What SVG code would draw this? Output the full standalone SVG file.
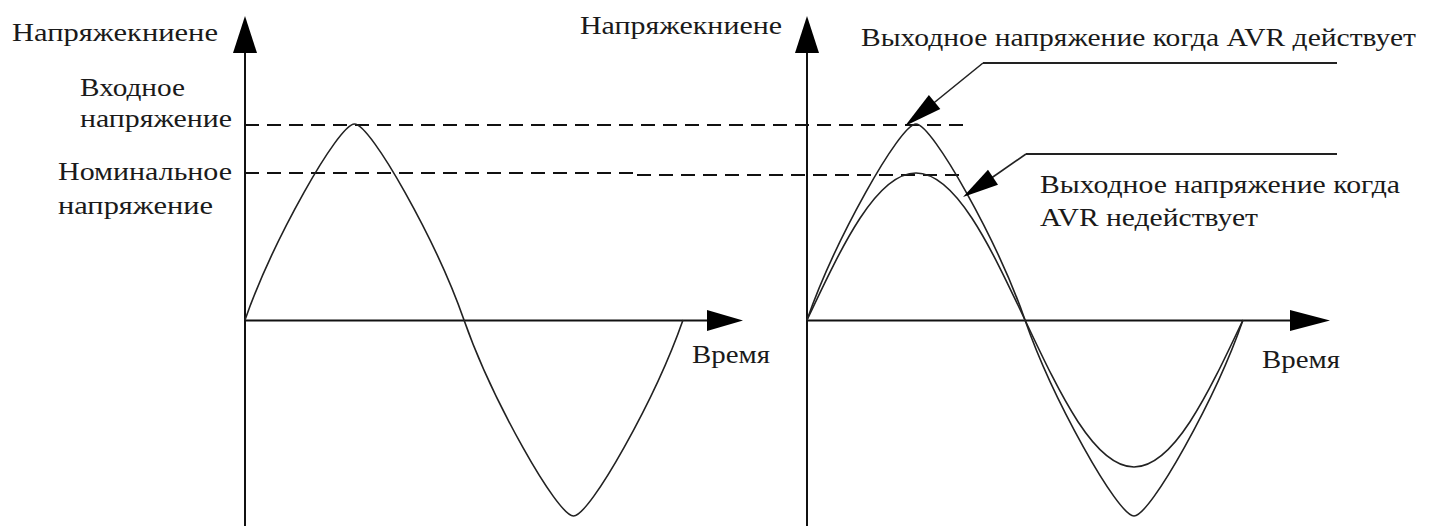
<svg xmlns="http://www.w3.org/2000/svg" width="1436" height="526" viewBox="0 0 1436 526">
<style>
.t{font-family:"Liberation Serif","DejaVu Serif",serif;font-size:25px;fill:#1a1a1a}
.ax{stroke:#111;stroke-width:2;fill:none}
.cv{stroke:#222;stroke-width:1.6;fill:none}
.ds{stroke:#111;stroke-width:2;fill:none;stroke-dasharray:14 8}
.ld{stroke:#222;stroke-width:1.6;fill:none}
.hl{stroke:#222;stroke-width:2.2;fill:none}
.ah{fill:#000;stroke:none}
</style>
<rect width="1436" height="526" fill="#fff"/>
<g id="left-chart">
  <line class="ax" x1="245" y1="50" x2="245" y2="526"/>
  <polygon class="ah" points="245,16 257,53 233,53"/>
  <line class="ax" x1="245" y1="320.5" x2="710" y2="320.5"/>
  <polygon class="ah" points="743,320.5 707,310 707,331"/>
  <line class="ds" x1="245" y1="125" x2="965" y2="125"/>
  <line class="ds" x1="245" y1="173" x2="637" y2="173"/>
  <line class="ds" x1="637" y1="175" x2="960" y2="175"/>
  <path class="cv" d="M245,320 C272.4,241.6 338.1,124 354.5,124 S436.6,241.6 464,320 S557.1,516 573.5,516 S655.6,398.4 683,320"/>
  <text class="t" x="12" y="41" textLength="206" lengthAdjust="spacingAndGlyphs">Напряжекниене</text>
  <text class="t" x="80" y="96" textLength="105" lengthAdjust="spacingAndGlyphs">Входное</text>
  <text class="t" x="80" y="127" textLength="152" lengthAdjust="spacingAndGlyphs">напряжение</text>
  <text class="t" x="58" y="180" textLength="174" lengthAdjust="spacingAndGlyphs">Номинальное</text>
  <text class="t" x="58" y="214" textLength="155" lengthAdjust="spacingAndGlyphs">напряжение</text>
  <text class="t" x="692" y="363" textLength="78" lengthAdjust="spacingAndGlyphs">Время</text>
</g>
<g id="right-chart">
  <line class="ax" x1="807" y1="50" x2="807" y2="526"/>
  <polygon class="ah" points="807,16 819,53 795,53"/>
  <line class="ax" x1="807" y1="320.5" x2="1293" y2="320.5"/>
  <polygon class="ah" points="1330,320.5 1290,310 1290,331"/>
  <path class="cv" d="M807,320 C834.25,241.6 899.65,124 916,124 S997.75,241.6 1025,320 S1117.65,516 1134,516 S1215.75,398.4 1243,320"/>
  <path class="cv" d="M807,320 C842.5,244.7 876.5,173 916,173 S989.5,244.7 1025,320 S1094.5,467 1134,467 S1207.5,395.3 1243,320"/>
  <text class="t" x="580" y="34" textLength="202" lengthAdjust="spacingAndGlyphs">Напряжекниене</text>
  <text class="t" x="1262" y="368" textLength="78" lengthAdjust="spacingAndGlyphs">Время</text>
</g>
<g id="label-avr-on">
  <text class="t" x="861" y="46" textLength="555" lengthAdjust="spacingAndGlyphs">Выходное напряжение когда AVR действует</text>
</g>
<g id="label-avr-off">
  <text class="t" x="1040" y="193" textLength="360" lengthAdjust="spacingAndGlyphs">Выходное напряжение когда</text>
  <text class="t" x="1040" y="226" textLength="218" lengthAdjust="spacingAndGlyphs">AVR недействует</text>
</g>
<g id="connectors">
  <line class="hl" x1="983" y1="63" x2="1337" y2="63"/>
  <line class="ld" x1="983" y1="63" x2="930" y2="106"/>
  <polygon class="ah" points="905,126 940.3,109 928.9,95"/>
  <line class="hl" x1="1026" y1="154" x2="1337" y2="154"/>
  <line class="ld" x1="1026" y1="154" x2="990" y2="179"/>
  <polygon class="ah" points="963,197 998,184.7 988,169.7"/>
</g>
</svg>
